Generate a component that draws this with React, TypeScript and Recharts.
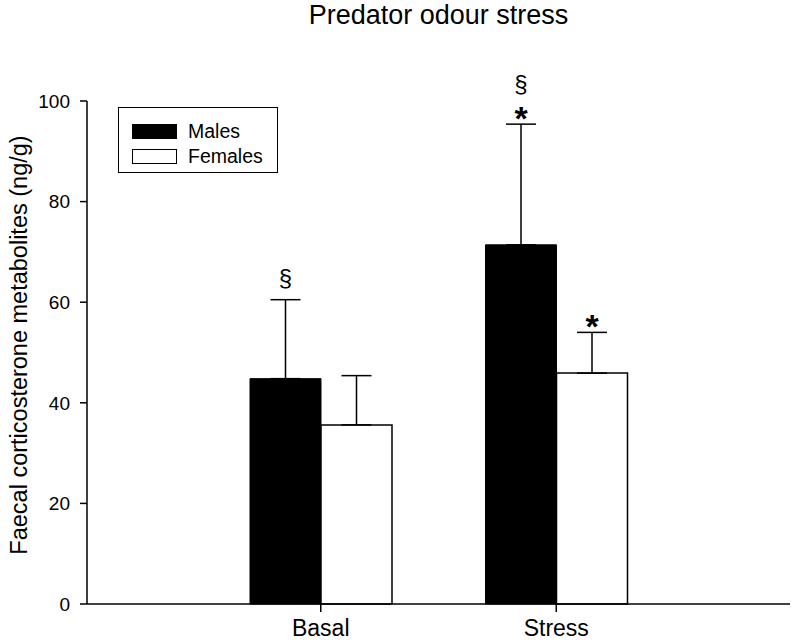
import React from 'react';
import { BarChart, Bar, XAxis, YAxis, ErrorBar, LabelList } from 'recharts';

const groups = ['Basal', 'Stress'];
const males = [44.8, 71.4];
const malesErr = [15.7, 24.0];
const females = [35.6, 45.9];
const femalesErr = [9.8, 8.1];
// significance marks, listed from the error bar upwards
const malesMarks = [['§'], ['*', '§']];
const femalesMarks = [[], ['*']];
const yTicks = [0, 20, 40, 60, 80, 100];

const font = '"Liberation Sans", Arial, sans-serif';

const data = groups.map((g, i) => ({
  group: g,
  males: males[i],
  malesErr: [0, malesErr[i]],
  females: females[i],
  femalesErr: [0, femalesErr[i]],
}));

const marksLabel = (errs: number[], marks: string[][]) => (props: any) => {
  const { x, y, width, height, value, index } = props;
  const list = marks[index] || [];
  if (!list.length) return null;
  const cx = Number(x) + Number(width) / 2;
  const capY = Number(y) - (errs[index] * Number(height)) / Number(value);
  let bottom = capY - 6;
  return (
    <g>
      {list.map((m, k) => {
        let el;
        if (m === '*') {
          el = (
            <text key={k} x={cx} y={bottom + 12} textAnchor="middle" fontSize={34} fontWeight="bold" fontFamily={font} fill="#000">
              *
            </text>
          );
          bottom -= 18;
        } else {
          el = (
            <text key={k} x={cx} y={bottom - 8} textAnchor="middle" fontSize={24} fontFamily={font} fill="#000">
              {m}
            </text>
          );
          bottom -= 26;
        }
        return el;
      })}
    </g>
  );
};

function LegendBox() {
  const items = [
    { name: 'Males', fill: '#000' },
    { name: 'Females', fill: '#fff' },
  ];
  return (
    <div style={{ position: 'absolute', left: 118, top: 107, width: 160, height: 66, border: '1.5px solid #000', boxSizing: 'border-box', background: '#fff', paddingTop: 11, paddingLeft: 13, fontFamily: font }}>
      {items.map((it) => (
        <div key={it.name} style={{ display: 'flex', alignItems: 'center', height: 25 }}>
          <span style={{ width: 45, height: 15, background: it.fill, border: '1.5px solid #000', boxSizing: 'border-box', marginRight: 11 }} />
          <span style={{ fontSize: 19.5, color: '#000' }}>{it.name}</span>
        </div>
      ))}
    </div>
  );
}

export default function App() {
  return (
    <div style={{ position: 'absolute', left: 0, top: 0, width: 793, height: 640, background: '#fff', fontFamily: font }}>
      <div style={{ position: 'absolute', left: 87, width: 703, top: 0, textAlign: 'center', fontSize: 27, lineHeight: '30px', color: '#000' }}>
        Predator odour stress
      </div>
      <div
        style={{
          position: 'absolute', left: 19, top: 345, transform: 'translate(-50%, -50%) rotate(-90deg)',
          whiteSpace: 'nowrap', fontSize: 23.5, color: '#000',
        }}
      >
        Faecal corticosterone metabolites (ng/g)
      </div>
      <BarChart width={793} height={640} data={data} margin={{ top: 101, right: 3, left: 0, bottom: 0 }} barGap={0} barSize={71}>
        <XAxis
          dataKey="group"
          height={36}
          padding={{ left: 116, right: 116 }}
          tickSize={8}
          tickMargin={8}
          axisLine={{ stroke: '#000', strokeWidth: 1.5 }}
          tickLine={{ stroke: '#000', strokeWidth: 1.5 }}
          tick={{ fill: '#000', fontSize: 23, fontFamily: font }}
        />
        <YAxis
          width={87}
          domain={[0, 100]}
          ticks={yTicks}
          tickSize={7}
          tickMargin={10}
          axisLine={{ stroke: '#000', strokeWidth: 1.5 }}
          tickLine={{ stroke: '#000', strokeWidth: 1.5 }}
          tick={{ fill: '#000', fontSize: 19, fontFamily: font }}
        />
        <Bar dataKey="males" name="Males" fill="#000" stroke="#000" strokeWidth={1} isAnimationActive={false}>
          <ErrorBar dataKey="malesErr" width={15} stroke="#000" strokeWidth={1.5} />
          <LabelList dataKey="males" content={marksLabel(malesErr, malesMarks)} />
        </Bar>
        <Bar dataKey="females" name="Females" fill="#fff" stroke="#000" strokeWidth={1.5} isAnimationActive={false}>
          <ErrorBar dataKey="femalesErr" width={15} stroke="#000" strokeWidth={1.5} />
          <LabelList dataKey="females" content={marksLabel(femalesErr, femalesMarks)} />
        </Bar>
      </BarChart>
      <LegendBox />
    </div>
  );
}
